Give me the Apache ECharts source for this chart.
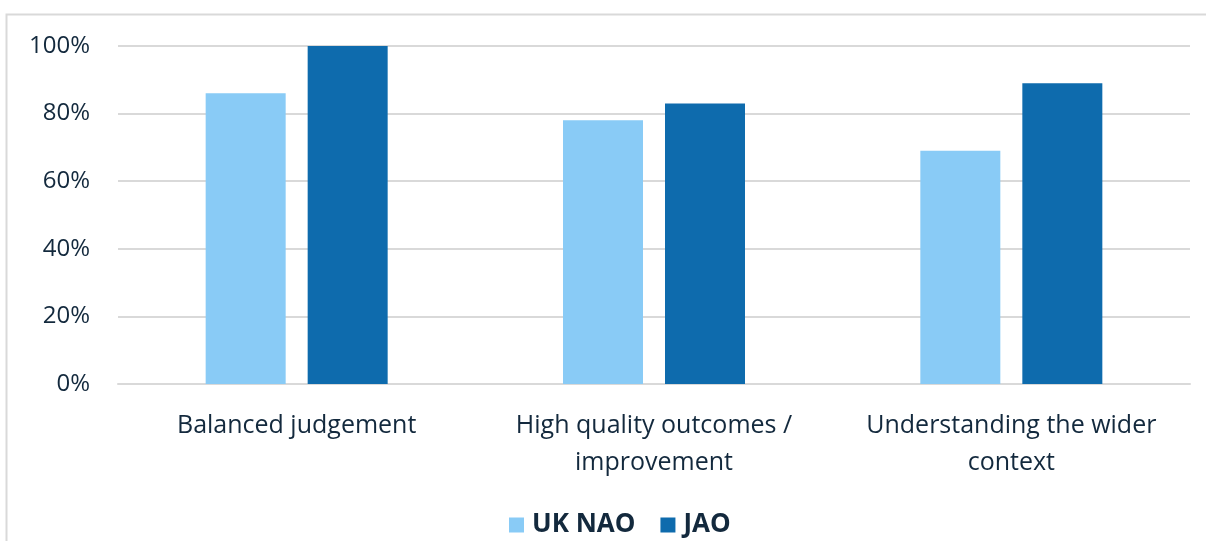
<!DOCTYPE html>
<html>
<head>
<meta charset="utf-8">
<script src="https://cdn.jsdelivr.net/npm/echarts@6/dist/echarts.min.js"></script>
<style>
html,body{margin:0;padding:0;background:#fff;}
#chart{width:1206px;height:541px;}
</style>
</head>
<body>
<div id="chart"></div>
<script>
const categories = ["Balanced judgement", "High quality outcomes /\nimprovement", "Understanding the wider\ncontext"];
const ukNao = [86, 78, 69];
const jao = [100, 83, 89];
const yTicks = [0, 20, 40, 60, 80, 100];

const textColor = "#13293d";
const font = "'Open Sans', 'Noto Sans', sans-serif";
const chart = echarts.init(document.getElementById('chart'));
chart.setOption({
  animation: false,
  backgroundColor: '#ffffff',
  graphic: [{
    type: 'rect', left: 4, top: 12, silent: true,
    shape: { width: 1300, height: 600 },
    style: { fill: 'none', stroke: '#d9d9d9', lineWidth: 2 }
  }],
  grid: { left: 118, right: 16, top: 46, bottom: 157, containLabel: false },
  legend: {
    top: 507, left: 504,
    itemWidth: 15, itemHeight: 15, itemGap: 25,
    icon: 'rect',
    textStyle: { fontFamily: font, fontSize: 26, fontWeight: 'bold', color: textColor, padding: [0,0,0,3] },
    data: ['UK NAO', 'JAO']
  },
  xAxis: {
    type: 'category', data: categories,
    axisLine: { lineStyle: { color: '#d9d9d9', width: 2 } },
    axisTick: { show: false },
    axisLabel: { fontFamily: font, fontSize: 25, color: textColor, margin: 23, lineHeight: 37, interval: 0 }
  },
  yAxis: {
    type: 'value', min: yTicks[0], max: yTicks[yTicks.length-1], interval: 20,
    axisLine: { show: false }, axisTick: { show: false },
    splitLine: { lineStyle: { color: '#d9d9d9', width: 2 } },
    axisLabel: { fontFamily: font, fontSize: 24, color: textColor, margin: 28, formatter: '{value}%' }
  },
  series: [
    { name: 'UK NAO', type: 'bar', data: ukNao, barWidth: 80, barGap: '27.5%',
      itemStyle: { color: '#89CBF6' } },
    { name: 'JAO', type: 'bar', data: jao, barWidth: 80,
      itemStyle: { color: '#0E6BAD' } }
  ]
});
</script>
</body>
</html>
